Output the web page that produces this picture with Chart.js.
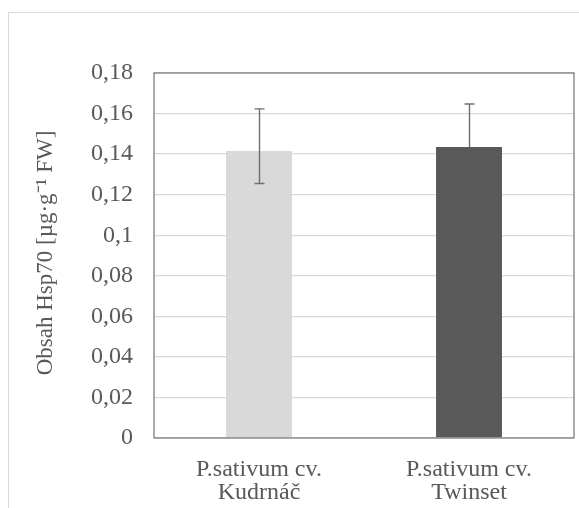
<!DOCTYPE html>
<html>
<head>
<meta charset="utf-8">
<script src="https://cdn.jsdelivr.net/npm/chart.js@4/dist/chart.umd.min.js"></script>
<style>
  html, body { margin: 0; padding: 0; background: #fff; }
  canvas { display: block; }
</style>
</head>
<body>
<canvas id="graf" width="579" height="508"></canvas>
<script>
const kategorie = [["P.sativum cv.", "Kudrnáč"], ["P.sativum cv.", "Twinset"]];
const hodnoty = [0.1415, 0.1435];
const chybaPlus = [0.0208, 0.0212];
const chybaMinus = [0.0160, 0];
const barvy = ["#d9d9d9", "#595959"];
const nazevOsy = "Obsah Hsp70 [µg·g⁻¹ FW]";
const pismo = "'Liberation Serif', 'Times New Roman', serif";

const ramecky = {
  id: "ramecky",
  beforeDraw(chart) {
    const ctx = chart.ctx;
    ctx.save();
    ctx.strokeStyle = "#d9d9d9";
    ctx.lineWidth = 1;
    ctx.strokeRect(8.5, 12.5, 600, 600);
    ctx.restore();
  },
  afterDatasetsDraw(chart) {
    const ctx = chart.ctx;
    const x = chart.scales.x, y = chart.scales.y;
    ctx.save();
    ctx.strokeStyle = "#6f6f6f";
    ctx.lineWidth = 1.4;
    hodnoty.forEach((v, i) => {
      const px = Math.round(x.getPixelForValue(i)) + 0.5;
      const top = y.getPixelForValue(v + chybaPlus[i]);
      const bot = y.getPixelForValue(v - chybaMinus[i]);
      ctx.beginPath();
      ctx.moveTo(px, top); ctx.lineTo(px, bot);
      ctx.moveTo(px - 5, top); ctx.lineTo(px + 5, top);
      if (chybaMinus[i] > 0) {
        ctx.moveTo(px - 5, bot); ctx.lineTo(px + 5, bot);
      }
      ctx.stroke();
    });
    const a = chart.chartArea;
    ctx.strokeStyle = "#7f7f7f";
    ctx.lineWidth = 1.3;
    ctx.strokeRect(a.left, a.top, a.right - a.left, a.bottom - a.top);
    ctx.restore();
  },
  afterDraw(chart) {
    const ctx = chart.ctx;
    ctx.save();
    ctx.translate(46, 253);
    ctx.rotate(-Math.PI / 2);
    ctx.fillStyle = "#595959";
    ctx.font = "23px " + pismo;
    ctx.textAlign = "center";
    ctx.textBaseline = "middle";
    ctx.fillText(nazevOsy, 0, 0);
    ctx.restore();
  }
};

new Chart(document.getElementById("graf"), {
  type: "bar",
  data: {
    labels: kategorie,
    datasets: [{
      data: hodnoty,
      backgroundColor: barvy,
      borderWidth: 0,
      categoryPercentage: 1,
      barPercentage: 0.314
    }]
  },
  options: {
    responsive: false,
    animation: false,
    layout: { padding: { top: 73, right: 5, left: 0, bottom: 0 } },
    plugins: {
      legend: { display: false },
      tooltip: { enabled: false }
    },
    scales: {
      x: {
        afterFit: s => { s.height = 70; },
        grid: { display: false, drawTicks: false },
        border: { display: false },
        ticks: {
          padding: 20,
          color: "#595959",
          font: { family: pismo, size: 24, lineHeight: 0.96 }
        }
      },
      y: {
        min: 0,
        max: 0.18,
        afterFit: s => { s.width = 154; },
        grid: { color: "#d9d9d9", lineWidth: 1.3, drawTicks: false },
        border: { display: false },
        ticks: {
          stepSize: 0.02,
          padding: 21,
          color: "#595959",
          font: { family: pismo, size: 24 },
          callback: v => String(parseFloat(v.toFixed(2))).replace(".", ",")
        }
      }
    }
  },
  plugins: [ramecky]
});
</script>
</body>
</html>
